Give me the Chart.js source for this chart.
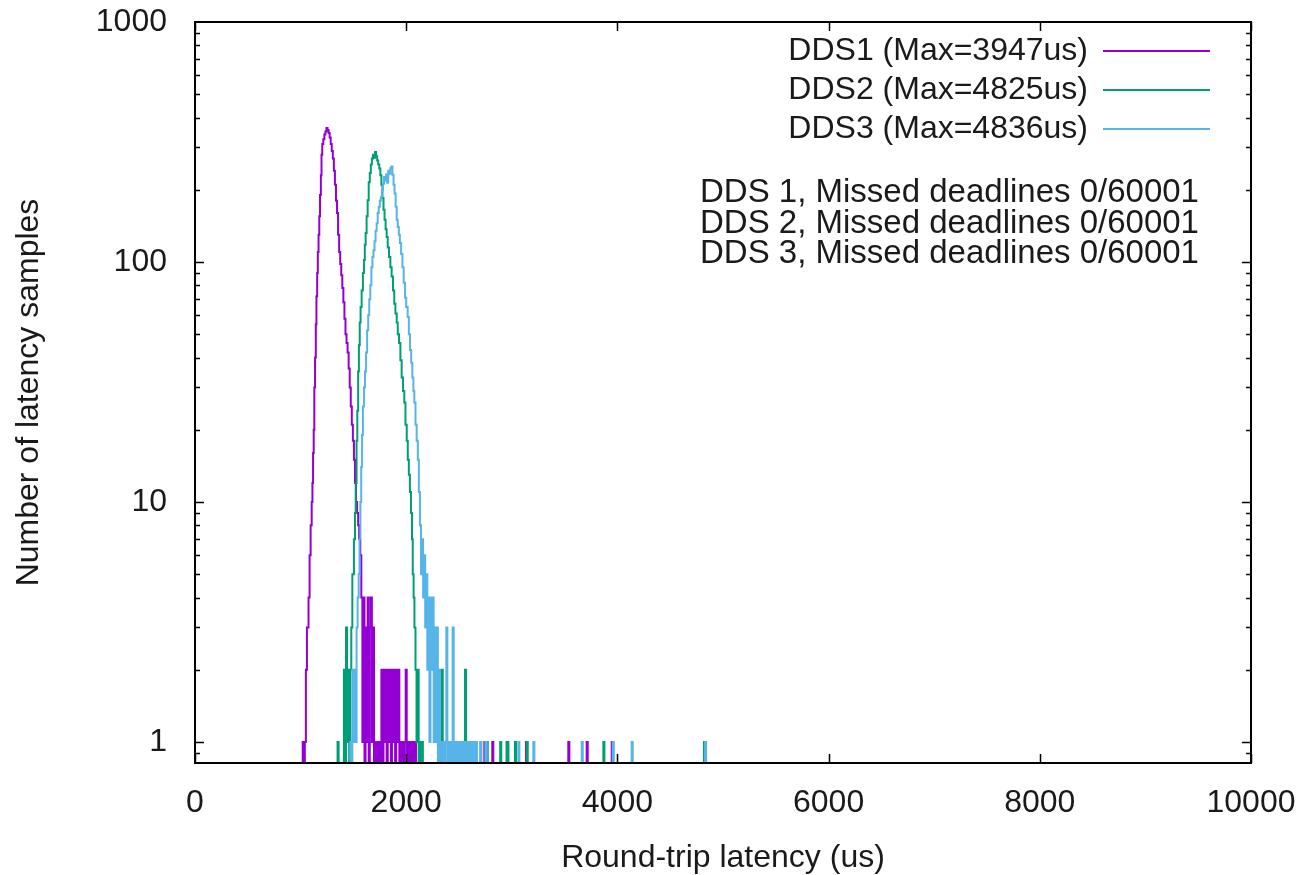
<!DOCTYPE html>
<html>
<head>
<meta charset="utf-8">
<title>Round-trip latency histogram</title>
<script src="https://cdn.jsdelivr.net/npm/chart.js@4.4.1/dist/chart.umd.min.js"></script>
<style>
  html, body { margin: 0; padding: 0; background: #fff; overflow: hidden; }
  #wrap { width: 1299px; height: 875px; position: relative; }
</style>
</head>
<body>
<div id="wrap"><canvas id="chart"></canvas></div>
<script>
// histogram bins: [latency us, samples] - each count holds until the next point
const dds1 = [
  [1000, 0], [1020, 1], [1030, 0], [1040, 1], [1050, 2], [1060, 3], [1075, 4], [1085, 6],
  [1095, 8], [1105, 10], [1112, 12], [1118, 16], [1124, 20], [1130, 30], [1137, 40],
  [1144, 55], [1150, 72], [1157, 90], [1163, 110], [1170, 130], [1177, 155], [1184, 190],
  [1192, 230], [1198, 280], [1205, 310], [1215, 325], [1225, 340], [1235, 350], [1245, 362],
  [1255, 355], [1265, 345], [1275, 330], [1285, 310], [1295, 290], [1305, 270], [1315, 240],
  [1325, 210], [1335, 180], [1345, 160], [1355, 130], [1365, 110], [1375, 98], [1385, 88],
  [1395, 78], [1405, 68], [1415, 58], [1425, 50], [1435, 46], [1445, 42], [1455, 36],
  [1465, 30], [1475, 25], [1485, 21], [1495, 18], [1505, 15], [1515, 12], [1525, 10],
  [1535, 9], [1545, 8], [1555, 7], [1565, 6], [1575, 4], [1585, 1], [1595, 4], [1605, 0],
  [1615, 3], [1625, 1], [1635, 4], [1645, 0], [1655, 3], [1665, 4], [1675, 1], [1685, 3],
  [1695, 0], [1705, 1], [1715, 0], [1725, 1], [1735, 0], [1745, 1], [1755, 0], [1765, 2],
  [1775, 0], [1785, 2], [1795, 1], [1805, 2], [1815, 0], [1825, 2], [1835, 1], [1845, 2],
  [1855, 0], [1865, 2], [1875, 1], [1885, 2], [1895, 0], [1905, 2], [1915, 1], [1925, 2],
  [1935, 0], [1945, 1], [1955, 0], [1965, 1], [1975, 0], [1985, 1], [1995, 2], [2005, 0],
  [2015, 1], [2025, 0], [2035, 1], [2045, 0], [2055, 1], [2064, 0], [2083, 1], [2093, 0],
  [2740, 1], [2750, 0], [2815, 1], [2825, 0], [3134, 1], [3144, 0], [3535, 1], [3545, 0],
  [3709, 1], [3719, 0], [3946, 1], [3956, 0]
];
const dds2 = [
  [1340, 0], [1350, 1], [1360, 0], [1410, 2], [1420, 0], [1430, 3], [1440, 1], [1450, 2],
  [1460, 0], [1470, 2], [1480, 3], [1490, 5], [1505, 7], [1515, 9], [1522, 12], [1530, 18],
  [1537, 24], [1545, 35], [1552, 45], [1560, 56], [1568, 65], [1578, 76], [1590, 90],
  [1600, 102], [1608, 118], [1616, 132], [1625, 155], [1635, 181], [1645, 215], [1655, 235],
  [1665, 255], [1675, 270], [1685, 280], [1695, 272], [1705, 287], [1715, 276], [1725, 265],
  [1735, 255], [1745, 245], [1755, 230], [1765, 210], [1775, 185], [1785, 165], [1795, 150],
  [1805, 137], [1815, 127], [1825, 115], [1837, 105], [1850, 95], [1862, 87], [1875, 76],
  [1887, 67], [1898, 61], [1910, 56], [1920, 50], [1932, 46], [1945, 39], [1957, 33],
  [1970, 29], [1982, 26], [1993, 21], [2005, 18], [2015, 15], [2025, 13], [2035, 11],
  [2045, 9], [2055, 7], [2062, 5], [2070, 4], [2078, 3], [2088, 2], [2098, 1], [2108, 2],
  [2118, 0], [2128, 1], [2138, 0], [2148, 1], [2158, 0], [2336, 2], [2346, 0], [2557, 2],
  [2567, 0], [2762, 1], [2772, 0], [2890, 1], [2900, 0], [2950, 1], [2968, 0], [3030, 1],
  [3040, 0], [3141, 1], [3151, 0], [3867, 1], [3877, 0], [4820, 1], [4830, 0]
];
const dds3 = [
  [1460, 0], [1470, 1], [1480, 0], [1490, 2], [1500, 1], [1510, 2], [1520, 1], [1530, 3],
  [1540, 4], [1550, 5], [1558, 7], [1566, 10], [1574, 14], [1582, 19], [1590, 25], [1600, 30],
  [1610, 35], [1620, 42], [1630, 52], [1640, 60], [1650, 70], [1660, 80], [1670, 95],
  [1680, 105], [1690, 112], [1700, 122], [1710, 135], [1720, 145], [1730, 160], [1740, 170],
  [1750, 180], [1760, 186], [1770, 200], [1780, 212], [1790, 226], [1800, 218], [1810, 232],
  [1820, 214], [1830, 240], [1840, 233], [1850, 246], [1860, 250], [1870, 231], [1880, 210],
  [1890, 193], [1900, 170], [1910, 150], [1920, 140], [1930, 130], [1940, 120], [1952, 108],
  [1964, 95], [1976, 82], [1989, 71], [2000, 65], [2014, 59], [2025, 50], [2036, 43],
  [2047, 38], [2058, 33], [2068, 29], [2077, 26], [2088, 21], [2099, 18], [2110, 15],
  [2120, 11], [2130, 8], [2140, 5], [2150, 7], [2160, 4], [2170, 6], [2180, 3], [2190, 5],
  [2200, 2], [2210, 4], [2220, 1], [2230, 4], [2240, 2], [2250, 4], [2260, 1], [2270, 3],
  [2280, 1], [2290, 3], [2300, 0], [2310, 2], [2320, 0], [2330, 1], [2340, 0], [2350, 1],
  [2360, 0], [2370, 1], [2380, 3], [2390, 0], [2400, 1], [2410, 0], [2420, 1], [2430, 0],
  [2440, 3], [2450, 0], [2460, 1], [2470, 0], [2480, 1], [2490, 0], [2500, 1], [2510, 0],
  [2520, 1], [2530, 0], [2540, 1], [2550, 0], [2560, 1], [2570, 0], [2580, 1], [2590, 0],
  [2600, 1], [2610, 0], [2620, 1], [2630, 0], [2640, 1], [2650, 0], [2660, 1], [2670, 0],
  [2700, 1], [2712, 0], [2750, 1], [2762, 0], [3062, 1], [3072, 0], [3204, 1], [3214, 0],
  [3662, 1], [3672, 0], [3956, 1], [3966, 0], [4135, 1], [4145, 0], [4830, 1], [4840, 0]
];

const seriesLabels = ["DDS1 (Max=3947us)", "DDS2 (Max=4825us)", "DDS3 (Max=4836us)"];
const seriesColors = ["#9400d3", "#009e73", "#56b4e9"];
const noteLines = [
  "DDS 1, Missed deadlines 0/60001",
  "DDS 2, Missed deadlines 0/60001",
  "DDS 3, Missed deadlines 0/60001"
];
const xTickValues = [0, 2000, 4000, 6000, 8000, 10000];
const yTickValues = [1, 10, 100, 1000];

// log axis can't show 0, so empty bins are sent below the axis floor and clipped (like gnuplot does)
const EMPTY_BIN = 0.5;

const FONT = "'Liberation Sans', Arial, sans-serif";
const TEXT = "#1a1a1a";

// gnuplot style border with inward ticks on all four sides, plus key and notes
const gnuplotFrame = {
  id: 'gnuplotFrame',
  afterDatasetsDraw(chart) {
    const ctx = chart.ctx;
    const a = chart.chartArea;
    const x = chart.scales.x;
    const y = chart.scales.y;
    ctx.save();
    ctx.strokeStyle = "#000";
    ctx.lineWidth = 1.5;
    ctx.beginPath();
    for (const v of xTickValues) {
      const px = Math.round(x.getPixelForValue(v)) + 0.5;
      ctx.moveTo(px, a.bottom); ctx.lineTo(px, a.bottom - 9);
      ctx.moveTo(px, a.top); ctx.lineTo(px, a.top + 9);
    }
    for (let dec = 0.1; dec < 1000; dec *= 10) {
      for (let m = 1; m <= 9; m++) {
        const v = dec * m;
        if (v < y.min || v > y.max) continue;
        const len = (m == 1) ? 9 : 5;
        const py = Math.round(y.getPixelForValue(v)) + 0.5;
        ctx.moveTo(a.left, py); ctx.lineTo(a.left + len, py);
        ctx.moveTo(a.right, py); ctx.lineTo(a.right - len, py);
      }
    }
    ctx.stroke();
    ctx.lineWidth = 2;
    ctx.strokeRect(a.left, a.top, a.right - a.left, a.bottom - a.top);
    ctx.restore();
  },
  afterDraw(chart) {
    const ctx = chart.ctx;
    ctx.save();
    ctx.font = "32px " + FONT;
    ctx.fillStyle = TEXT;
    ctx.textBaseline = "middle";
    ctx.textAlign = "right";
    seriesLabels.forEach(function(label, i) {
      const ly = 51 + i * 39;
      ctx.fillText(label, 1088, ly);
      ctx.strokeStyle = seriesColors[i];
      ctx.lineWidth = 2;
      ctx.beginPath();
      ctx.moveTo(1103, ly);
      ctx.lineTo(1210, ly);
      ctx.stroke();
    });
    ctx.textAlign = "left";
    ctx.font = "33px " + FONT;
    noteLines.forEach(function(line, i) {
      ctx.fillText(line, 700, 193 + i * 30.5);
    });
    ctx.restore();
  }
};

const datasets = [dds1, dds2, dds3].map(function(series, i) {
  return {
    label: seriesLabels[i],
    data: series.map(function(p) { return {x: p[0], y: p[1] > 0 ? p[1] : EMPTY_BIN}; }),
    borderColor: seriesColors[i],
    backgroundColor: seriesColors[i],
    borderWidth: 2,
    pointRadius: 0,
    stepped: true,
    fill: false,
    clip: 0,
    order: 3 - i
  };
});

const config = {
  type: 'line',
  data: { datasets: datasets },
  options: {
    responsive: true,
    maintainAspectRatio: false,
    animation: false,
    events: [],
    layout: { padding: { top: 22, right: 48, left: 0, bottom: 0 } },
    plugins: {
      legend: { display: false },
      tooltip: { enabled: false }
    },
    scales: {
      x: {
        type: 'linear',
        min: 0,
        max: 10000,
        bounds: 'data',
        grid: { display: false, drawTicks: false },
        border: { display: false },
        afterBuildTicks: function(scale) {
          scale.ticks = xTickValues.map(function(v) { return {value: v}; });
        },
        afterFit: function(scale) {
          scale.height = 112;
          scale.paddingLeft = 0;
          scale.paddingRight = 0;
        },
        ticks: {
          autoSkip: false,
          maxRotation: 0,
          padding: 21,
          color: TEXT,
          font: { family: FONT, size: 32 },
          callback: function(v) { return String(v); }
        },
        title: {
          display: true,
          text: 'Round-trip latency (us)',
          color: TEXT,
          padding: { top: 0, bottom: 0 },
          font: { family: FONT, size: 32, lineHeight: 1.05 }
        }
      },
      y: {
        type: 'logarithmic',
        min: 0.8176,
        max: 1000,
        bounds: 'data',
        grid: { display: false, drawTicks: false },
        border: { display: false },
        afterBuildTicks: function(scale) {
          scale.ticks = yTickValues.map(function(v) { return {value: v}; });
        },
        afterFit: function(scale) {
          scale.width = 195;
          scale.paddingTop = 0;
          scale.paddingBottom = 0;
        },
        ticks: {
          padding: 28,
          color: TEXT,
          font: { family: FONT, size: 32 },
          callback: function(v) { return String(v); }
        },
        title: {
          display: true,
          text: 'Number of latency samples',
          color: TEXT,
          padding: { top: 12, bottom: 0 },
          font: { family: FONT, size: 32, lineHeight: 1.1 }
        }
      }
    }
  },
  plugins: [gnuplotFrame]
};

new Chart(document.getElementById('chart'), config);
</script>
</body>
</html>
